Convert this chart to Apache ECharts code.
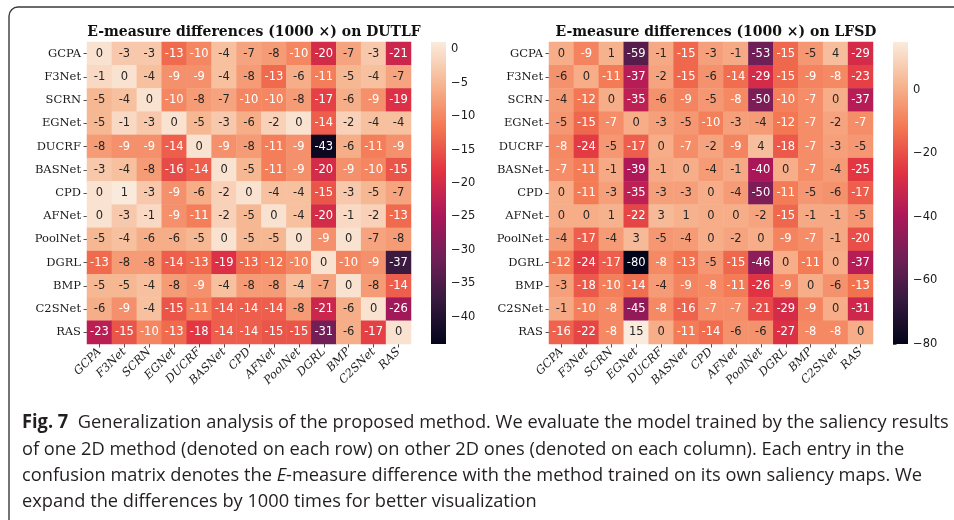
<!DOCTYPE html>
<html>
<head>
<meta charset="utf-8">
<script src="https://cdn.jsdelivr.net/npm/echarts@6/dist/echarts.min.js"></script>
<style>
  html, body { margin: 0; padding: 0; background: #ffffff; }
  #chart { width: 954px; height: 520px; }
</style>
</head>
<body>
<div id="chart"></div>
<script>
// Methods: rows = training source, columns = evaluated 2D method
const methods = ['GCPA', 'F3Net', 'SCRN', 'EGNet', 'DUCRF', 'BASNet', 'CPD',
                 'AFNet', 'PoolNet', 'DGRL', 'BMP', 'C2SNet', 'RAS'];

// E-measure differences (x1000) on DUTLF
const dutlfValues = [
  [  0,  -3,  -3, -13, -10,  -4,  -7,  -8, -10, -20,  -7,  -3, -21],
  [ -1,   0,  -4,  -9,  -9,  -4,  -8, -13,  -6, -11,  -5,  -4,  -7],
  [ -5,  -4,   0, -10,  -8,  -7, -10, -10,  -8, -17,  -6,  -9, -19],
  [ -5,  -1,  -3,   0,  -5,  -3,  -6,  -2,   0, -14,  -2,  -4,  -4],
  [ -8,  -9,  -9, -14,   0,  -9,  -8, -11,  -9, -43,  -6, -11,  -9],
  [ -3,  -4,  -8, -16, -14,   0,  -5, -11,  -9, -20,  -9, -10, -15],
  [  0,   1,  -3,  -9,  -6,  -2,   0,  -4,  -4, -15,  -3,  -5,  -7],
  [  0,  -3,  -1,  -9, -11,  -2,  -5,   0,  -4, -20,  -1,  -2, -13],
  [ -5,  -4,  -6,  -6,  -5,   0,  -5,  -5,   0,  -9,   0,  -7,  -8],
  [-13,  -8,  -8, -14, -13, -19, -13, -12, -10,   0, -10,  -9, -37],
  [ -5,  -5,  -4,  -8,  -9,  -4,  -8,  -8,  -4,  -7,   0,  -8, -14],
  [ -6,  -9,  -4, -15, -11, -14, -14, -14,  -8, -21,  -6,   0, -26],
  [-23, -15, -10, -13, -18, -14, -14, -15, -15, -31,  -6, -17,   0]
];

// E-measure differences (x1000) on LFSD
const lfsdValues = [
  [  0,  -9,   1, -59,  -1, -15,  -3,  -1, -53, -15,  -5,   4, -29],
  [ -6,   0, -11, -37,  -2, -15,  -6, -14, -29, -15,  -9,  -8, -23],
  [ -4, -12,   0, -35,  -6,  -9,  -5,  -8, -50, -10,  -7,   0, -37],
  [ -5, -15,  -7,   0,  -3,  -5, -10,  -3,  -4, -12,  -7,  -2,  -7],
  [ -8, -24,  -5, -17,   0,  -7,  -2,  -9,   4, -18,  -7,  -3,  -5],
  [ -7, -11,  -1, -39,  -1,   0,  -4,  -1, -40,   0,  -7,  -4, -25],
  [  0, -11,  -3, -35,  -3,  -3,   0,  -4, -50, -11,  -5,  -6, -17],
  [  0,   0,   1, -22,   3,   1,   0,   0,  -2, -15,  -1,  -1,  -5],
  [ -4, -17,  -4,   3,  -5,  -4,   0,  -2,   0,  -9,  -7,  -1, -20],
  [-12, -24, -17, -80,  -8, -13,  -5, -15, -46,   0, -11,   0, -37],
  [ -3, -18, -10, -14,  -4,  -9,  -8, -11, -26,  -9,   0,  -6, -13],
  [ -1, -10,  -8, -45,  -8, -16,  -7,  -7, -21, -29,  -9,   0, -31],
  [-16, -22,  -8,  15,   0, -11, -14,  -6,  -6, -27,  -8,  -8,   0]
];

// Colour-scale limits and colorbar ticks
const dutlfScale = [-44.1, 1.1];
const lfsdScale = [-80, 15];
const dutlfTicks = [0, -5, -10, -15, -20, -25, -30, -35, -40];
const lfsdTicks = [0, -20, -40, -60, -80];

const panelTitles = [
  'E-measure differences (1000 \u00d7) on DUTLF',
  'E-measure differences (1000 \u00d7) on LFSD'
];

const captionLines = [
  '{b|Fig. 7}  Generalization analysis of the proposed method. We evaluate the model trained by the saliency results',
  'of one 2D method (denoted on each row) on other 2D ones (denoted on each column). Each entry in the',
  'confusion matrix denotes the {i|E}-measure difference with the method trained on its own saliency maps. We',
  'expand the differences by 1000 times for better visualization'
];

// "rocket" sequential palette, dark to light
const rocket = ['#03051a', '#35193e', '#701f57', '#ad1759', '#e13342', '#f37651', '#f6b48f', '#faebdd'];

function hexToRgb(h) { return [1, 3, 5].map(i => parseInt(h.slice(i, i + 2), 16)); }
function rocketAt(t) {
  t = Math.max(0, Math.min(1, t));
  const p = t * (rocket.length - 1);
  const i = Math.min(Math.floor(p), rocket.length - 2);
  const f = p - i;
  const a = hexToRgb(rocket[i]), b = hexToRgb(rocket[i + 1]);
  return a.map((c, k) => c + (b[k] - c) * f);
}
function luminance(rgb) {
  const lin = rgb.map(c => {
    c /= 255;
    return c <= 0.03928 ? c / 12.92 : Math.pow((c + 0.055) / 1.055, 2.4);
  });
  return 0.2126 * lin[0] + 0.7152 * lin[1] + 0.0722 * lin[2];
}

function cells(values, scale) {
  const out = [];
  values.forEach((row, r) => row.forEach((v, c) => {
    const t = (v - scale[0]) / (scale[1] - scale[0]);
    const dark = luminance(rocketAt(t)) > 0.407;
    out.push({ value: [c, r, v], label: { color: dark ? '#262626' : '#ffffff' } });
  }));
  return out;
}

const tickStyle = { show: true, length: 3.5, lineStyle: { color: '#262626', width: 0.8 } };
const minusFmt = v => (v < 0 ? '\u2212' + Math.abs(v) : String(v));

function heatX(gi) {
  return {
    type: 'category', gridIndex: gi, data: methods, position: 'bottom',
    axisLine: { show: false },
    axisTick: Object.assign({ alignWithLabel: true, interval: 0 }, tickStyle),
    axisLabel: { interval: 0, rotate: 45, margin: 6, fontFamily: 'DejaVu Serif',
                 fontStyle: 'italic', fontSize: 11.5, color: '#1a1a1a' },
    splitLine: { show: false }
  };
}
function heatY(gi) {
  return {
    type: 'category', gridIndex: gi, data: methods, inverse: true,
    axisLine: { show: false },
    axisTick: Object.assign({ alignWithLabel: true, interval: 0 }, tickStyle),
    axisLabel: { interval: 0, margin: 6, fontFamily: 'DejaVu Serif', fontSize: 11.5, color: '#1a1a1a' },
    splitLine: { show: false }
  };
}
function barX(gi) {
  return { type: 'value', gridIndex: gi, min: 0, max: 1, show: false };
}
function barY(gi, scale, ticks) {
  return {
    type: 'value', gridIndex: gi, min: scale[0], max: scale[1], position: 'right',
    axisLine: { show: false },
    axisTick: Object.assign({ customValues: ticks }, tickStyle),
    axisLabel: { customValues: ticks, formatter: minusFmt, margin: 5,
                 fontFamily: 'DejaVu Sans', fontSize: 11.5, color: '#1a1a1a' },
    splitLine: { show: false }
  };
}
function colorbar(gi, scale) {
  const stops = rocket.map((c, i) => ({ offset: 1 - i / (rocket.length - 1), color: c }))
                      .sort((a, b) => a.offset - b.offset);
  return {
    type: 'custom', xAxisIndex: gi, yAxisIndex: gi, silent: true, data: [[0, 0]],
    renderItem: (params, api) => {
      const p0 = api.coord([0, scale[1]]);
      const p1 = api.coord([1, scale[0]]);
      return {
        type: 'rect',
        shape: { x: p0[0], y: p0[1], width: p1[0] - p0[0], height: p1[1] - p0[1] },
        style: { fill: new echarts.graphic.LinearGradient(0, 0, 0, 1, stops) }
      };
    }
  };
}
function heatSeries(gi, values, scale) {
  return {
    type: 'heatmap', xAxisIndex: gi, yAxisIndex: gi, data: cells(values, scale),
    label: { show: true, formatter: p => String(p.value[2]),
             fontFamily: 'DejaVu Sans', fontSize: 11.5 },
    itemStyle: { borderWidth: 0 },
    emphasis: { disabled: true }
  };
}

const chart = echarts.init(document.getElementById('chart'), null, { renderer: 'canvas' });

const captionFont = { fontFamily: 'Open Sans', fontSize: 19, fill: '#231f20' };
const captionY = [423, 449.5, 476, 502];

chart.setOption({
  animation: false,
  backgroundColor: '#ffffff',
  title: panelTitles.map((t, i) => ({
    text: t, left: i === 0 ? 249 : 711, top: 20, textAlign: 'center',
    textStyle: { fontFamily: 'DejaVu Serif', fontWeight: 'bold', fontSize: 14, color: '#111111' }
  })),
  grid: [
    { left: 87, top: 42, width: 324, height: 302 },
    { left: 549, top: 42, width: 324, height: 302 },
    { left: 431, top: 42, width: 15, height: 302 },
    { left: 893, top: 42, width: 15, height: 302 }
  ],
  xAxis: [heatX(0), heatX(1), barX(2), barX(3)],
  yAxis: [heatY(0), heatY(1), barY(2, dutlfScale, dutlfTicks), barY(3, lfsdScale, lfsdTicks)],
  visualMap: [
    { type: 'continuous', show: false, seriesIndex: 0, min: dutlfScale[0], max: dutlfScale[1],
      dimension: 2, inRange: { color: rocket } },
    { type: 'continuous', show: false, seriesIndex: 1, min: lfsdScale[0], max: lfsdScale[1],
      dimension: 2, inRange: { color: rocket } }
  ],
  series: [
    heatSeries(0, dutlfValues, dutlfScale),
    heatSeries(1, lfsdValues, lfsdScale),
    colorbar(2, dutlfScale),
    colorbar(3, lfsdScale)
  ],
  graphic: [
    { type: 'rect', silent: true, z: -10,
      shape: { x: 9, y: 7, width: 1000, height: 600, r: 9 },
      style: { fill: 'none', stroke: '#3a3a3a', lineWidth: 1.4 } }
  ].concat(captionLines.map((line, i) => ({
    type: 'text', silent: true, x: 22, y: captionY[i], scaleX: 0.96,
    style: Object.assign({
      text: line, verticalAlign: 'middle',
      rich: {
        b: { fontFamily: 'Open Sans', fontSize: 19, fontWeight: 'bold', fill: '#231f20' },
        i: { fontFamily: 'Open Sans', fontSize: 19, fontStyle: 'italic', fill: '#231f20' }
      }
    }, captionFont)
  })))
});
</script>
</body>
</html>
